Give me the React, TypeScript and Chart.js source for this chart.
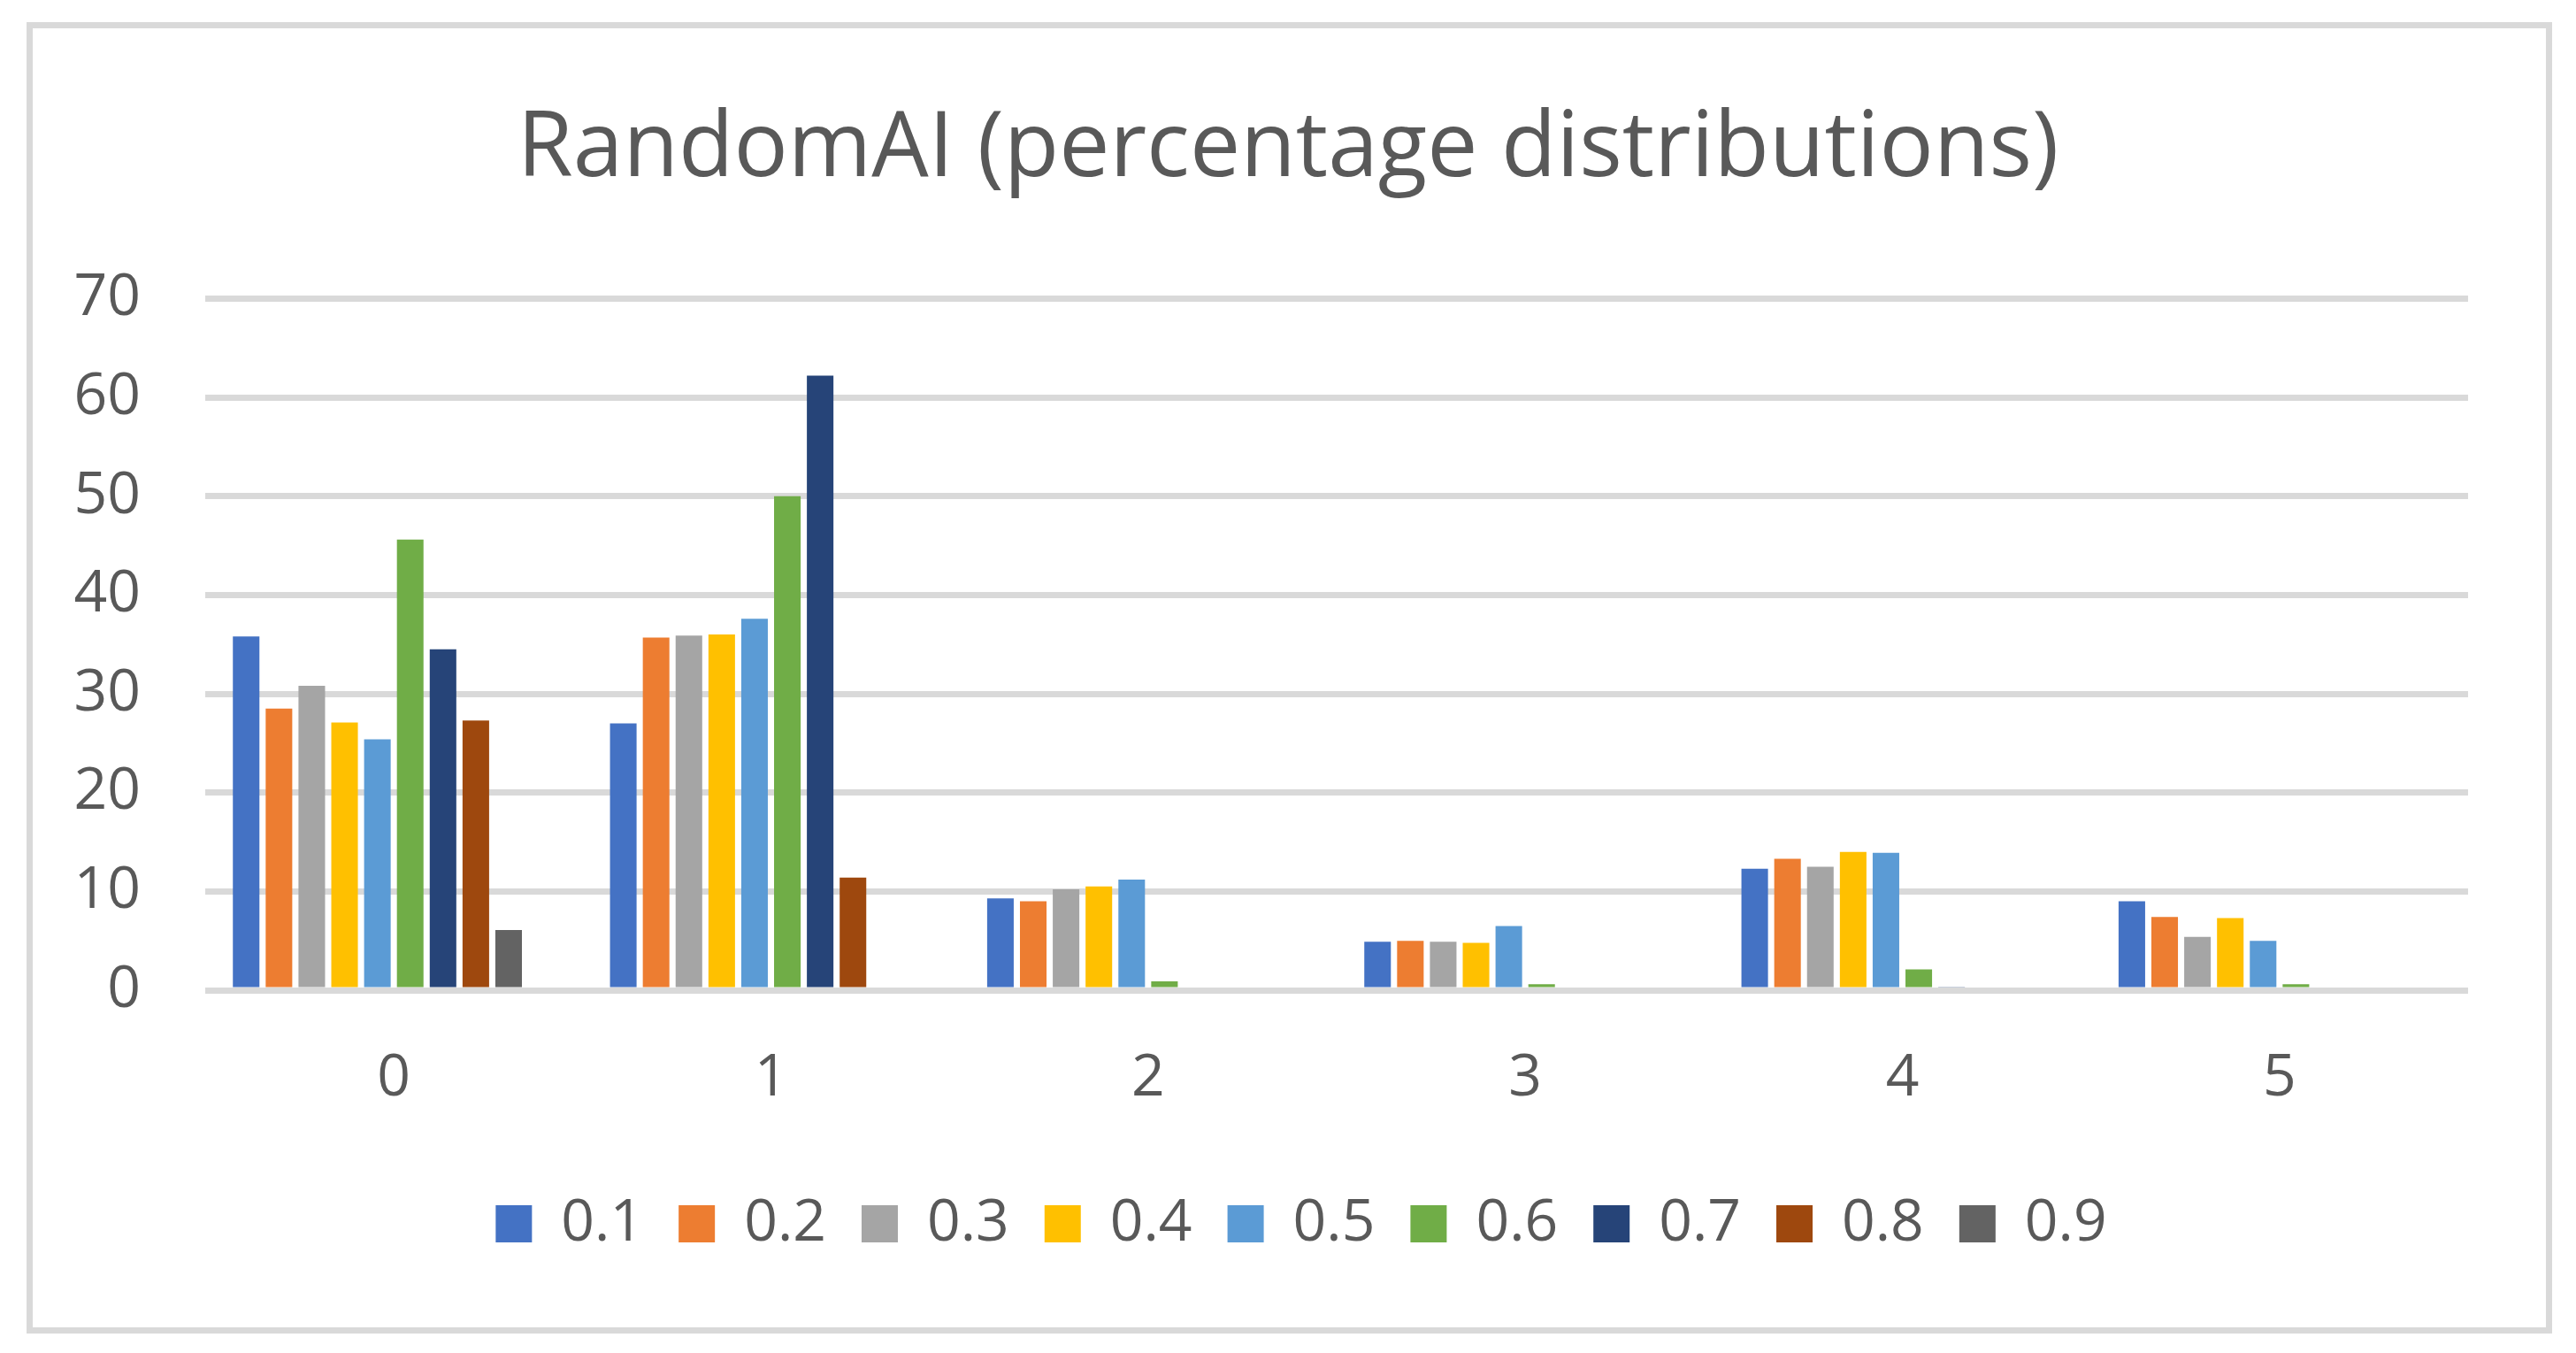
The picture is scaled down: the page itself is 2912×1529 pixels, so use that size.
import React, { useEffect, useRef } from "react";
import { Chart, registerables } from "chart.js";

Chart.register(...registerables);

const TITLE = "RandomAI (percentage distributions)";
const CATEGORIES = ["0", "1", "2", "3", "4", "5"];
const SERIES_NAMES = ["0.1", "0.2", "0.3", "0.4", "0.5", "0.6", "0.7", "0.8", "0.9", "1.0"];
const SERIES_COLORS = ["#4472C4", "#ED7D31", "#A5A5A5", "#FFC000", "#5B9BD5", "#70AD47", "#264478", "#9E480E", "#636363", "#997300"];

const S01 = [35.8, 27.0, 9.3, 4.9, 12.3, 9.0];
const S02 = [28.5, 35.7, 9.0, 5.0, 13.3, 7.4];
const S03 = [30.8, 35.9, 10.2, 4.9, 12.5, 5.4];
const S04 = [27.1, 36.0, 10.5, 4.8, 14.0, 7.3];
const S05 = [25.4, 37.6, 11.2, 6.5, 13.9, 5.0];
const S06 = [45.6, 50.0, 0.9, 0.6, 2.1, 0.6];
const S07 = [34.5, 62.2, 0, 0, 0.3, 0];
const S08 = [27.3, 11.4, 0, 0, 0, 0];
const S09 = [6.1, 0, 0, 0, 0, 0];
const S10 = [0, 0, 0, 0, 0, 0];

const SERIES = [S01, S02, S03, S04, S05, S06, S07, S08, S09, S10];
const LEGEND_COUNT = 9;

const Y_MIN = 0;
const Y_MAX = 70;
const Y_STEP = 10;

const W = 2912;
const H = 1529;
const TEXT = "#595959";
const GRID = "#D9D9D9";
const FONT = "'Open Sans', sans-serif";

const legendShift = {
  id: "legendShift",
  afterLayout(chart: any) {
    if (chart.legend) {
      chart.legend.left += 15;
      chart.legend.right += 15;
    }
  },
};

export default function App() {
  const ref = useRef<HTMLCanvasElement | null>(null);

  useEffect(() => {
    if (!ref.current) return;
    const chart = new Chart(ref.current, {
      type: "bar",
      data: {
        labels: CATEGORIES,
        datasets: SERIES.map((s, i) => ({
          label: SERIES_NAMES[i],
          data: s,
          backgroundColor: SERIES_COLORS[i],
          borderWidth: 0,
          categoryPercentage: 0.87,
          barPercentage: 0.81,
        })),
      },
      plugins: [legendShift],
      options: {
        animation: false,
        responsive: false,
        devicePixelRatio: 1,
        layout: { padding: { left: 80, right: 80, top: 0, bottom: 103 } },
        plugins: {
          tooltip: { enabled: false },
          title: {
            display: true,
            text: TITLE,
            color: TEXT,
            font: { family: FONT, size: 102, weight: "normal" },
            padding: { top: 109, bottom: 106 },
          },
          legend: {
            position: "bottom",
            labels: {
              color: TEXT,
              font: { family: FONT, size: 66 },
              boxWidth: 41,
              boxHeight: 42,
              padding: 40,
              filter: (item: any) => item.datasetIndex < LEGEND_COUNT,
            },
          },
        },
        scales: {
          x: {
            grid: { display: false },
            border: { display: false },
            ticks: { color: TEXT, font: { family: FONT, size: 66 }, padding: 53 },
            afterFit: (s: any) => { s.height = 191; },
          },
          y: {
            min: Y_MIN,
            max: Y_MAX,
            ticks: { stepSize: Y_STEP, color: TEXT, font: { family: FONT, size: 66 }, padding: 73 },
            grid: { color: GRID, lineWidth: 7, drawTicks: false },
            border: { display: false },
            afterFit: (s: any) => { s.width = 152; },
          },
          yRight: {
            type: "linear",
            position: "right",
            display: true,
            ticks: { display: false },
            grid: { display: false, drawTicks: false },
            border: { display: false },
            afterFit: (s: any) => { s.width = 42; },
          },
        },
      },
    });
    return () => chart.destroy();
  }, []);

  return (
    <div style={{ position: "fixed", left: 0, top: 0, width: W, height: H, background: "#fff" }}>
      <canvas ref={ref} width={W} height={H} style={{ position: "absolute", left: 0, top: 0, width: W, height: H }} />
      <div
        style={{
          position: "absolute",
          left: 30,
          top: 25,
          width: 2855,
          height: 1482,
          boxSizing: "border-box",
          border: "7px solid #D9D9D9",
          pointerEvents: "none",
        }}
      />
    </div>
  );
}
